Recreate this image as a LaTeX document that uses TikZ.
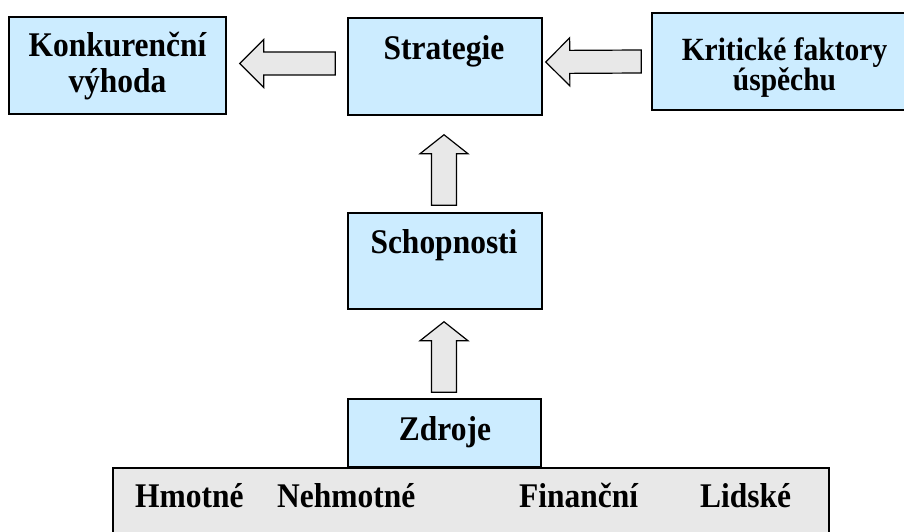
\documentclass[tikz,border=0pt]{standalone}
\usepackage{fontspec}
\setmainfont{Liberation Serif}
% slightly condensed, taller setting of the serif face for the labels
\newfontfamily\lblfont{Liberation Serif}[FakeStretch=0.91]
\usetikzlibrary{calc}
\definecolor{boxblue}{HTML}{CCECFF}
\definecolor{panelgray}{HTML}{E8E8E8}
\begin{document}
\begin{tikzpicture}[x=1pt,y=-1pt,
  box/.style={draw=black, line width=1.5pt, fill=boxblue, inner sep=0pt},
  panel/.style={draw=black, line width=1.5pt, fill=panelgray, inner sep=0pt},
  lbl/.style={font=\lblfont\fontsize{34.6}{36}\selectfont\bfseries, inner sep=0pt, anchor=base, align=center},
  % block arrow drawn from tail (start) to tip (target):
  % #1 head length, #2 head half-width, #3 shaft half-width
  blockarrow/.style n args={3}{draw=black, line width=1.2pt, fill=panelgray, line join=miter,
    to path={
      -- ($(\tikztostart)!#3!90:(\tikztotarget)$)
      -- ($(\tikztotarget)!#1!(\tikztostart)!#3!90:(\tikztotarget)$)
      -- ($(\tikztotarget)!#1!(\tikztostart)!#2!90:(\tikztotarget)$)
      -- (\tikztotarget)
      -- ($(\tikztotarget)!#1!(\tikztostart)!#2!-90:(\tikztotarget)$)
      -- ($(\tikztotarget)!#1!(\tikztostart)!#3!-90:(\tikztotarget)$)
      -- ($(\tikztostart)!#3!-90:(\tikztotarget)$)
      -- cycle}},
  harrow/.style={blockarrow={24pt}{24pt}{11.5pt}},
  varrow/.style={blockarrow={19pt}{24pt}{12.5pt}}]
\useasboundingbox (0,0) rectangle (904,532);
\clip (0,0) rectangle (904,532);

% boxes
\node[box, minimum width=217pt, minimum height=97pt] (konk) at (117.5,65.5) {};
\node[box, minimum width=194pt, minimum height=97pt] (strat) at (445,66.5) {};
\node[box, minimum width=265pt, minimum height=97pt] (krit) at (784.5,61.5) {};
\node[box, minimum width=194pt, minimum height=96pt] (schop) at (445,261) {};
\node[panel, minimum width=716pt, minimum height=92pt] (list) at (471,514) {};
\node[box, minimum width=193pt, minimum height=68pt] (zdroje) at (444.5,433) {};

% labels (multi-line labels are placed by the baseline of their last line)
\node[lbl] (konkT) at ($(konk.center)+(0,27.5)$) {Konkurenční\\výhoda};
\node[lbl] (stratT) at (444,60) {Strategie};
\node[lbl, font=\lblfont\fontsize{32.4}{29}\selectfont\bfseries] (kritT) at ($(krit.center)+(0,29.5)$) {Kritické faktory\\úspěchu};
\node[lbl] (schopT) at (444,253) {Schopnosti};
\node[lbl] (zdrojeT) at (445,440) {Zdroje};
\node[lbl, anchor=base west] (hmot) at (135,507) {Hmotné};
\node[lbl, anchor=base west] (nehmot) at (277,507) {Nehmotné};
\node[lbl, anchor=base west] (fin) at (519,507) {Finanční};
\node[lbl, anchor=base west] (lid) at (700,507) {Lidské};

% block arrows
\draw[harrow] ($(strat.west)+(-12,-3)$) to ($(konk.east)+(13,-2)$);
\draw[harrow] ($(krit.west)+(-10,0)$) to ($(strat.east)+(3,-4.5)$);
\draw[varrow] ($(schop.north)+(-1,-7)$) to ($(strat.south)+(-1,19)$);
\draw[varrow] ($(zdroje.north)+(-0.5,-6)$) to ($(schop.south)+(-1,12)$);
\end{tikzpicture}
\end{document}
